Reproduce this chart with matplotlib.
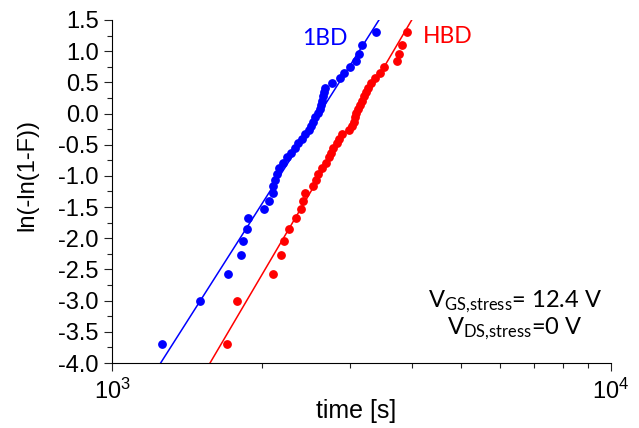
import matplotlib
matplotlib.use("Agg")
import matplotlib.pyplot as plt
import numpy as np
from matplotlib.ticker import FixedLocator, FuncFormatter, FormatStrFormatter, MultipleLocator

plt.rcParams["font.family"] = ["Liberation Sans", "DejaVu Sans"]
plt.rcParams["axes.unicode_minus"] = False
plt.rcParams["mathtext.fontset"] = "custom"
plt.rcParams["mathtext.rm"] = "Lato"
plt.rcParams["mathtext.sf"] = "Liberation Sans"

# ── Data: Weibull plot, 40 devices each ───────────────────────────────────────
weibull_y = [-3.701, -2.998, -2.577, -2.276, -2.040, -1.844, -1.675, -1.528, -1.395, -1.275,
             -1.164, -1.060, -0.964, -0.873, -0.786, -0.704, -0.625, -0.548, -0.474, -0.402,
             -0.331, -0.263, -0.195, -0.128, -0.061, 0.006, 0.072, 0.139, 0.206, 0.274,
             0.344, 0.416, 0.491, 0.570, 0.653, 0.744, 0.845, 0.961, 1.105, 1.312]

t_1bd = [1261, 1501, 1705, 1811, 1833, 1862, 1876, 2016, 2066, 2099,
         2102, 2122, 2141, 2161, 2201, 2242, 2284, 2327, 2359, 2403,
         2437, 2482, 2505, 2528, 2551, 2587, 2611, 2623, 2634, 2646,
         2658, 2672, 2760, 2864, 2918, 2999, 3083, 3126, 3170, 3381]

t_hbd = [1698, 1778, 2099, 2181, 2214, 2263, 2334, 2392, 2417, 2437,
         2525, 2564, 2587, 2631, 2684, 2722, 2747, 2772, 2824, 2850,
         2890, 2985, 3027, 3055, 3069, 3083, 3112, 3141, 3170, 3199,
         3228, 3258, 3304, 3365, 3443, 3507, 3725, 3760, 3812, 3902]

# Weibull fits (scale eta [s], shape beta)
eta_1bd, beta_1bd = 2604, 5.46
eta_hbd, beta_hbd = 3093, 5.91

# ── Plot ──────────────────────────────────────────────────────────────────────
fig = plt.figure(figsize=(6.39, 4.28), dpi=100)
ax = fig.add_axes([112 / 639, 1 - 363 / 428, 499 / 639, 343 / 428])

t_fit = np.logspace(3, 4, 200)
for t, eta, beta, c in [(t_1bd, eta_1bd, beta_1bd, "#0000ff"),
                        (t_hbd, eta_hbd, beta_hbd, "#ff0000")]:
    ax.plot(t_fit, beta * np.log(t_fit / eta), color=c, lw=1.1)
    ax.plot(t, weibull_y, "o", color=c, ms=5.3, mec=c)

ax.set_xscale("log")
ax.set_xlim(1000, 10000)
ax.set_ylim(-4.0, 1.5)

ax.spines["top"].set_visible(False)
ax.spines["right"].set_visible(False)
for s in ("left", "bottom"):
    ax.spines[s].set_linewidth(0.8)

ax.yaxis.set_major_locator(MultipleLocator(0.5))
ax.yaxis.set_minor_locator(MultipleLocator(0.25))
ax.yaxis.set_major_formatter(FormatStrFormatter("%.1f"))
ax.xaxis.set_major_locator(FixedLocator([1000, 10000]))
ax.xaxis.set_major_formatter(FuncFormatter(lambda v, p: r"$\mathsf{10^{%d}}$" % round(np.log10(v))))
ax.xaxis.set_minor_locator(FixedLocator([2000, 3000, 4000, 5000, 6000, 7000, 8000, 9000]))
ax.xaxis.set_minor_formatter(FuncFormatter(lambda v, p: ""))

ax.tick_params(which="major", direction="out", length=6, width=0.8, labelsize=17, color="#222222")
ax.tick_params(which="minor", direction="out", length=3.5, width=0.8, color="#222222")
ax.tick_params(axis="x", which="major", pad=5)

ax.set_ylabel("ln(-ln(1-F))", fontsize=17)
ax.yaxis.set_label_coords(-0.148, 0.548)
ax.set_xlabel("time [s]", fontsize=18)
ax.xaxis.set_label_coords(0.489, -0.105)

ax.text(2403, 1.21, "1BD", color="#0000ff", fontsize=16.5, family="Lato", ha="left", va="center")
ax.text(4200, 1.23, "HBD", color="#ff0000", fontsize=16.5, family="Lato", ha="left", va="center")
ax.text(0.8076, 0.14,
        r"$\mathregular{V_{GS{,}stress}}$= 12.4 V" + "\n" + r"$\mathregular{V_{DS{,}stress}}$=0 V",
        transform=ax.transAxes, fontsize=17, family="Lato", ha="center", va="center",
        multialignment="center", linespacing=1.05)

fig.savefig("out.png", dpi=100)
